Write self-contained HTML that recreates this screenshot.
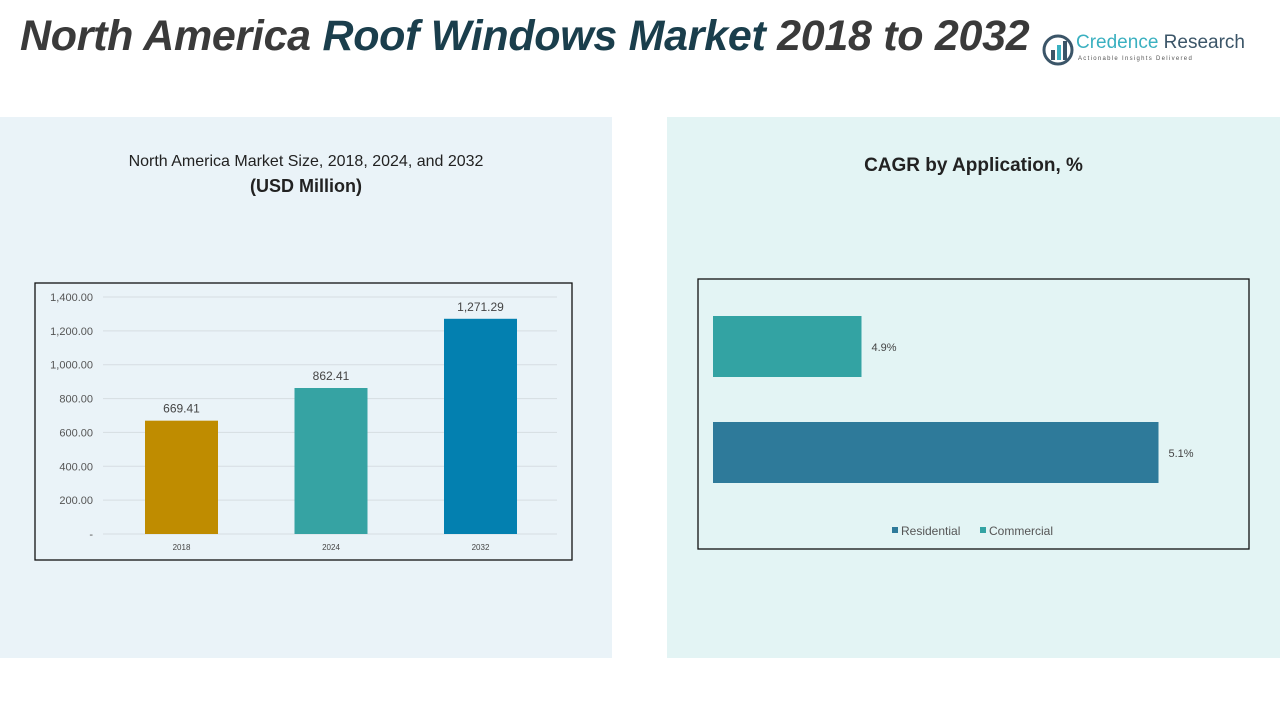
<!DOCTYPE html>
<html><head><meta charset="utf-8">
<style>
body{margin:0;width:1280px;height:720px;background:#fff;position:relative;overflow:hidden;font-family:"Liberation Sans",sans-serif}
.abs{position:absolute}
</style></head><body>
<div class="abs" style="left:0;top:117px;width:612px;height:541px;background:#eaf3f8"></div>
<div class="abs" style="left:667px;top:117px;width:613px;height:541px;background:#e3f4f4"></div>
<div class="abs" style="left:20px;top:12px;font-size:43px;font-weight:bold;font-style:italic;color:#3a3a3a;white-space:nowrap;letter-spacing:-0.3px">North America <span style="color:#1a3e4c">Roof Windows Market</span> 2018 to 2032</div>
<div class="abs" style="left:1042px;top:32px;width:210px;height:36px">
<svg width="32" height="32" style="position:absolute;left:0;top:2px"><circle cx="16" cy="16" r="14" fill="none" stroke="#3b5568" stroke-width="3"/><rect x="9" y="16" width="4" height="10" fill="#3b5568"/><rect x="15" y="11" width="4" height="15" fill="#3ab0c0"/><rect x="21" y="7" width="4" height="19" fill="#3b5568"/></svg>
<div style="position:absolute;left:34px;top:0;font-size:19px;color:#3ab0c0;white-space:nowrap">Credence <span style="color:#3b5568">Research</span></div>
<div style="position:absolute;left:36px;top:24px;font-size:6px;letter-spacing:1.3px;color:#555;white-space:nowrap">Actionable Insights Delivered</div>
</div>
<div class="abs" style="left:0;width:612px;top:153px;text-align:center;font-size:16px;color:#222">North America Market Size, 2018, 2024, and 2032<br><b style="font-size:18px;line-height:30px">(USD Million)</b></div>
<div class="abs" style="left:667px;width:613px;top:155px;text-align:center;font-size:19px;font-weight:bold;color:#222">CAGR by Application, %</div>

<svg class="abs" style="left:0;top:0" width="1280" height="720" id="svg">
<rect x="35" y="283" width="537" height="277" fill="none" stroke="#111" stroke-width="1.3"/>
<rect x="698" y="279" width="551" height="270" fill="none" stroke="#111" stroke-width="1.3"/>
<g id="left"></g><g id="right"></g>
</svg>
<script>
const years=["2018","2024","2032"];
const sizes=[669.41,862.41,1271.29];
const sizeLabels=["669.41","862.41","1,271.29"];
const barColors=["#bf8c00","#36a3a3","#0380b0"];
const yTicks=[0,200,400,600,800,1000,1200,1400];
const yTickLabels=["-","200.00","400.00","600.00","800.00","1,000.00","1,200.00","1,400.00"];
const apps=["Commercial","Residential"];
const cagr=[4.9,5.1];
const cagrLabels=["4.9%","5.1%"];
const appColors=["#33a3a3","#2e7a9a"];
const NS="http://www.w3.org/2000/svg";
function mk(tag,attrs,parent,text){const e=document.createElementNS(NS,tag);for(const k in attrs)e.setAttribute(k,attrs[k]);if(text!==undefined)e.textContent=text;parent.appendChild(e);return e;}
const L=document.getElementById('left');
const y=v=>534-(v/1400)*(534-297);
const xc=i=>181.5+i*149.5;
yTicks.forEach((t,i)=>{
 const g=mk('line',{x1:103,x2:557,y1:y(t),y2:y(t),stroke:'#d6dde2','stroke-width':1},L);
 
 
 const tx=mk('text',{x:93,y:y(t)+4,'text-anchor':'end','font-size':11,fill:'#555'},L,yTickLabels[i]);
 
 
});
years.forEach((yr,i)=>{
 const r=mk('rect',{x:xc(i)-36.5,y:y(sizes[i]),width:73,height:y(0)-y(sizes[i]),fill:barColors[i]},L);
 
 
 const v=mk('text',{x:xc(i),y:y(sizes[i])-8,'text-anchor':'middle','font-size':12,fill:'#444'},L,sizeLabels[i]);
 
 
 const c=mk('text',{x:xc(i),y:550,'text-anchor':'middle','font-size':8,fill:'#444'},L,yr);
 
 
});
const R=document.getElementById('right');
const xMin=4.8,x0=713,pxPer=1485;
const xs=v=>x0+(v-xMin)*pxPer;
const rowY=[316,422];
apps.forEach((a,i)=>{
 const r=mk('rect',{x:x0,y:rowY[i],width:xs(cagr[i])-x0,height:61,fill:appColors[i]},R);
 
 
 const t=mk('text',{x:xs(cagr[i])+10,y:rowY[i]+35,'font-size':11,fill:'#444'},R,cagrLabels[i]);
 
 
});
[["Residential",appColors[1],892],["Commercial",appColors[0],980]].forEach(([n,c,x])=>{
 const s=mk('rect',{x:x,y:527,width:6,height:6,fill:c},R);
 
 
 const t=mk('text',{x:x+9,y:535,'font-size':12,fill:'#555'},R,n);
 
 
});
</script>
</body></html>
